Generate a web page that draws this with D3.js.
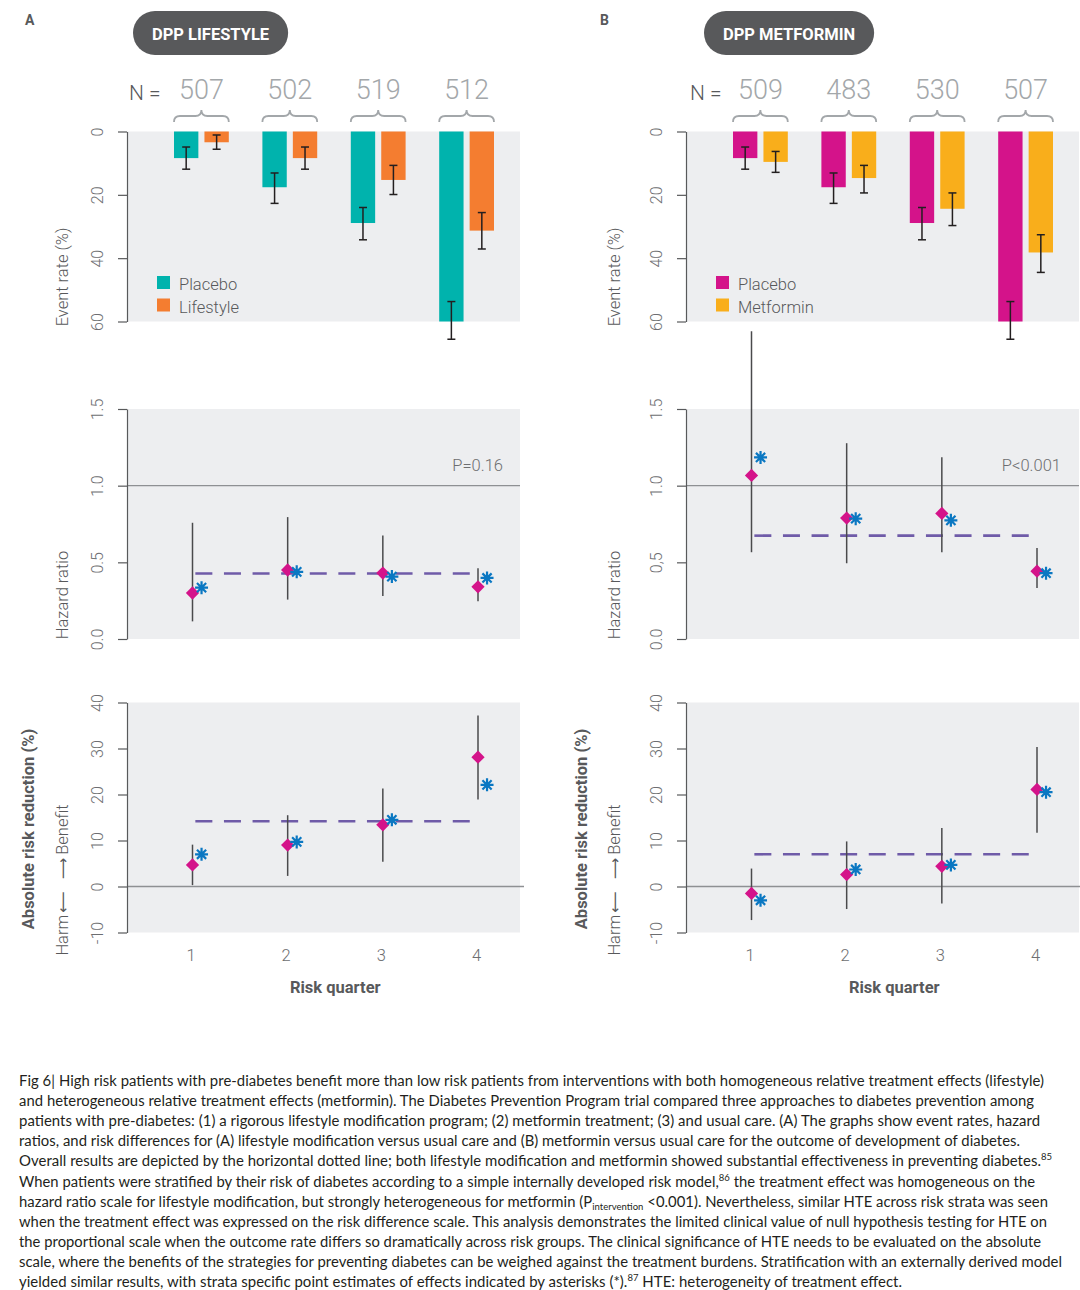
<!DOCTYPE html>
<html><head><meta charset="utf-8">
<script src="https://cdn.jsdelivr.net/npm/d3@7"></script>
<style>
body{margin:0;background:#fff;}
svg{display:block;}
</style></head><body>
<svg id="chart" width="1080" height="1290"></svg>
<script>
// ---------------- DATA ----------------
const quarters = [1, 2, 3, 4];
const groupKeys = ["placebo", "treat"];

// Panel A: lifestyle
const lifeN = [507, 502, 519, 512];
const lifePlaceboRate = [8.4, 17.6, 28.9, 60];
const lifePlaceboLo   = [4.9, 13.1, 24.0, 53.7];
const lifePlaceboHi   = [11.9, 22.7, 34.2, 65.6];
const lifeRate = [3.4, 8.4, 15.3, 31.3];
const lifeLo   = [1.1, 4.9, 10.7, 25.6];
const lifeHi   = [5.6, 11.9, 19.9, 37.1];
const lifeHR   = [0.30, 0.45, 0.43, 0.34];
const lifeHRLo = [0.115, 0.257, 0.281, 0.246];
const lifeHRHi = [0.758, 0.795, 0.675, 0.462];
const lifeHRExt = [0.335, 0.438, 0.407, 0.398];
const lifeHROverall = 0.427;
const lifeARR   = [4.7, 9.0, 13.4, 28.1];
const lifeARRLo = [0.3, 2.3, 5.4, 18.9];
const lifeARRHi = [9.1, 15.5, 21.3, 37.2];
const lifeARRExt = [7.0, 9.7, 14.5, 22.1];
const lifeARROverall = 14.2;

// Panel B: metformin
const metN = [509, 483, 530, 507];
const metPlaceboRate = [8.4, 17.6, 28.9, 60];
const metPlaceboLo   = [4.9, 13.1, 24.0, 53.7];
const metPlaceboHi   = [11.9, 22.7, 34.2, 65.6];
const metRate = [9.6, 14.7, 24.4, 38.2];
const metLo   = [6.3, 10.7, 19.4, 32.6];
const metHi   = [12.9, 19.4, 29.7, 44.5];
const metHR   = [1.067, 0.789, 0.819, 0.442];
const metHRLo = [0.566, 0.494, 0.566, 0.332];
const metHRHi = [2.007, 1.277, 1.186, 0.594];
const metHRExt = [1.184, 0.785, 0.774, 0.429];
const metHROverall = 0.674;
const metARR   = [-1.5, 2.6, 4.4, 21.1];
const metARRLo = [-7.3, -4.9, -3.7, 11.7];
const metARRHi = [3.9, 9.8, 12.7, 30.3];
const metARRExt = [-3.0, 3.7, 4.7, 20.5];
const metARROverall = 7.0;

const overallSpan = [1.03, 3.96];

// tick values / labels
const rateTicks = [0, 20, 40, 60];
const hrTicks = [0, 0.5, 1.0, 1.5];
const hrTickLabelsA = ["0.0", "0.5", "1.0", "1.5"];
const hrTickLabelsB = ["0.0", "0,5", "1.0", "1.5"];
const arrTicks = [-10, 0, 10, 20, 30, 40];
const arrTickLabels = ["-10", "0", "10", "20", "30", "40"];
const quarterLabels = ["1", "2", "3", "4"];

const captionLines = [
  "Fig 6| High risk patients with pre-diabetes benefit more than low risk patients from interventions with both homogeneous relative treatment effects (lifestyle)",
  "and heterogeneous relative treatment effects (metformin). The Diabetes Prevention Program trial compared three approaches to diabetes prevention among",
  "patients with pre-diabetes: (1) a rigorous lifestyle modification program; (2) metformin treatment; (3) and usual care. (A) The graphs show event rates, hazard",
  "ratios, and risk differences for (A) lifestyle modification versus usual care and (B) metformin versus usual care for the outcome of development of diabetes.",
  "Overall results are depicted by the horizontal dotted line; both lifestyle modification and metformin showed substantial effectiveness in preventing diabetes.^{85}",
  "When patients were stratified by their risk of diabetes according to a simple internally developed risk model,^{86} the treatment effect was homogeneous on the",
  "hazard ratio scale for lifestyle modification, but strongly heterogeneous for metformin (P_{intervention} <0.001). Nevertheless, similar HTE across risk strata was seen",
  "when the treatment effect was expressed on the risk difference scale. This analysis demonstrates the limited clinical value of null hypothesis testing for HTE on",
  "the proportional scale when the outcome rate differs so dramatically across risk groups. The clinical significance of HTE needs to be evaluated on the absolute",
  "scale, where the benefits of the strategies for preventing diabetes can be weighed against the treatment burdens. Stratification with an externally derived model",
  "yielded similar results, with strata specific point estimates of effects indicated by asterisks (*).^{87} HTE: heterogeneity of treatment effect."
];
const captionLineEnds = [1044, 1034, 1040, 1020, 1052, 1035, 1048, 1047, 1041, 1062, 902];

// ---------------- STYLE ----------------
const FONT = "Roboto, 'Open Sans', sans-serif";
const AXIS_COL = "#58595b";
const TICK_COL = "#6d6e71";
const BG = "#edeef0";
const DIAMOND = "#d4138a";
const STAR = "#0a77c2";
const DASH = "#6f5ba8";
const CI_COL = "#4a4a4c";

const svg = d3.select("#chart");

function styleAxis(sel) {
  sel.select(".domain").attr("stroke", AXIS_COL).attr("stroke-width", 1.2);
  sel.selectAll(".tick line").attr("stroke", AXIS_COL).attr("stroke-width", 1.2);
  sel.selectAll(".tick text")
    .attr("fill", TICK_COL).attr("font-size", 16).attr("font-family", FONT).attr("font-weight", 300)
    .attr("transform", "rotate(-90)").attr("x", 0).attr("y", -30).attr("dy", "0.36em")
    .attr("text-anchor", "middle");
}

function asteriskPath(r) {
  const p = [];
  for (let k = 0; k < 4; k++) {
    const a = k * Math.PI / 4;
    const cx = Math.cos(a) * r, cy = Math.sin(a) * r;
    p.push(`M${-cx},${-cy}L${cx},${cy}`);
  }
  return p.join("");
}

function rotTitle(g, x, y, text, opts) {
  return g.append("text")
    .attr("transform", `translate(${x},${y}) rotate(-90)`)
    .attr("text-anchor", "middle").attr("dy", "0.35em")
    .attr("font-family", FONT).attr("font-size", opts.size || 16)
    .attr("font-weight", opts.weight || 300)
    .attr("fill", opts.fill || AXIS_COL)
    .text(text);
}

function drawPanel(cfg) {
  const dx = cfg.dx;
  const axisX = 127 + dx;
  const plotRight = Math.min(520 + dx, 1080);
  const g = svg.append("g");

  // panel letter
  g.append("text").attr("x", cfg.letterX).attr("y", 25)
    .attr("font-family", FONT).attr("font-weight", 700).attr("font-size", 14)
    .attr("fill", AXIS_COL).text(cfg.letter);

  // pill title
  const pill = g.append("g");
  const pr = pill.append("rect").attr("fill", "#58595b");
  const pt = pill.append("text").attr("font-family", FONT).attr("font-weight", 700)
    .attr("font-size", 16.5).attr("fill", "#fff").attr("text-anchor", "middle")
    .attr("dy", "0.36em").text(cfg.title);
  const tw = pt.node().getComputedTextLength();
  const pw = tw + 38;
  pr.attr("x", cfg.pillX).attr("y", 11).attr("width", pw).attr("height", 44).attr("rx", 22);
  pt.attr("x", cfg.pillX + pw / 2).attr("y", 34);

  // ---- TOP: event rates ----
  const xBand = d3.scaleBand().domain(quarters).range([174 + dx, 494 + dx]).paddingInner(0.38).paddingOuter(0);
  const sub = d3.scaleBand().domain(groupKeys).range([0, xBand.bandwidth()]).paddingInner(0.2).paddingOuter(0);
  const yTop = d3.scaleLinear().domain([0, 60]).range([131.5, 321.5]);

  g.append("rect").attr("x", axisX).attr("y", yTop(0)).attr("width", plotRight - axisX)
    .attr("height", yTop(60) - yTop(0)).attr("fill", BG);

  const rows = quarters.map((q, i) => ({
    q, n: cfg.n[i],
    vals: [
      { key: "placebo", v: cfg.pRate[i], lo: cfg.pLo[i], hi: cfg.pHi[i] },
      { key: "treat", v: cfg.tRate[i], lo: cfg.tLo[i], hi: cfg.tHi[i] }
    ]
  }));
  const colors = d3.scaleOrdinal().domain(groupKeys).range(cfg.colors);

  const grp = g.selectAll(".grp").data(rows).join("g").attr("transform", d => `translate(${xBand(d.q)},0)`);
  grp.selectAll("rect").data(d => d.vals).join("rect")
    .attr("x", d => sub(d.key)).attr("width", sub.bandwidth())
    .attr("y", yTop(0)).attr("height", d => yTop(d.v) - yTop(0))
    .attr("fill", d => colors(d.key));
  const eb = grp.selectAll(".eb").data(d => d.vals).join("g")
    .attr("transform", d => `translate(${sub(d.key) + sub.bandwidth() / 2},0)`);
  eb.append("line").attr("y1", d => yTop(d.lo)).attr("y2", d => yTop(d.hi))
    .attr("stroke", "#231f20").attr("stroke-width", 1.5);
  eb.append("line").attr("x1", -4).attr("x2", 4).attr("y1", d => yTop(d.lo)).attr("y2", d => yTop(d.lo))
    .attr("stroke", "#231f20").attr("stroke-width", 1.5);
  eb.append("line").attr("x1", -4).attr("x2", 4).attr("y1", d => yTop(d.hi)).attr("y2", d => yTop(d.hi))
    .attr("stroke", "#231f20").attr("stroke-width", 1.5);

  // N labels and braces
  g.append("text").attr("x", 129 + dx + cfg.nShift).attr("y", 100)
    .attr("font-family", FONT).attr("font-weight", 300).attr("font-size", 21)
    .attr("fill", AXIS_COL).text("N =");
  g.selectAll(".nlab").data(rows).join("text")
    .attr("x", d => xBand(d.q) + xBand.bandwidth() / 2).attr("y", 99)
    .attr("text-anchor", "middle").attr("font-family", FONT).attr("font-weight", 300)
    .attr("font-size", 27).attr("fill", "#a3a7aa").text(d => d.n);
  g.selectAll(".brace").data(rows).join("path")
    .attr("d", d => {
      const x0 = xBand(d.q), x1 = x0 + xBand.bandwidth(), xc = (x0 + x1) / 2;
      const yt = 110, ym = 116, yb = 122, r = 6;
      return `M${x0},${yb} Q${x0},${ym} ${x0 + r},${ym} L${xc - r},${ym} Q${xc},${ym} ${xc},${yt} ` +
             `Q${xc},${ym} ${xc + r},${ym} L${x1 - r},${ym} Q${x1},${ym} ${x1},${yb}`;
    })
    .attr("fill", "none").attr("stroke", "#a3a7aa").attr("stroke-width", 1.8);

  // legend
  const leg = g.append("g");
  cfg.legend.forEach((lab, i) => {
    leg.append("rect").attr("x", 157 + dx).attr("y", 276 + i * 22.5).attr("width", 13).attr("height", 13)
      .attr("fill", colors(groupKeys[i]));
    leg.append("text").attr("x", 179 + dx).attr("y", 290 + i * 22.5)
      .attr("font-family", FONT).attr("font-weight", 300).attr("font-size", 16.5)
      .attr("fill", AXIS_COL).text(lab);
  });

  const axTop = g.append("g").attr("transform", `translate(${axisX},0)`)
    .call(d3.axisLeft(yTop).tickValues(rateTicks).tickSize(9).tickSizeOuter(0).tickFormat(d3.format("d")));
  styleAxis(axTop);
  rotTitle(g, cfg.titleX, 277, "Event rate (%)", { size: 16.5 });

  // ---- shared x for lower panels ----
  const xM = d3.scaleLinear().domain([1, 4]).range([192.5 + dx, 478 + dx]);

  function pointPanel(yScale, est, lo, hi, ext, overall, refVal, refExtra) {
    const [yb, yt] = yScale.range();
    g.append("rect").attr("x", axisX).attr("y", yt).attr("width", plotRight - axisX)
      .attr("height", yb - yt).attr("fill", BG);
    g.append("line").attr("x1", axisX).attr("x2", Math.min(plotRight + refExtra, 1080))
      .attr("y1", yScale(refVal)).attr("y2", yScale(refVal))
      .attr("stroke", "#8e9093").attr("stroke-width", 1.3);
    g.append("line").attr("x1", xM(overallSpan[0])).attr("x2", xM(overallSpan[1]))
      .attr("y1", yScale(overall)).attr("y2", yScale(overall))
      .attr("stroke", DASH).attr("stroke-width", 2.6).attr("stroke-dasharray", "17,11.6");
    const pts = quarters.map((q, i) => ({ q, est: est[i], lo: lo[i], hi: hi[i], ext: ext[i] }));
    g.selectAll(null).data(pts).join("line")
      .attr("x1", d => xM(d.q)).attr("x2", d => xM(d.q))
      .attr("y1", d => yScale(d.lo)).attr("y2", d => yScale(d.hi))
      .attr("stroke", CI_COL).attr("stroke-width", 1.5);
    g.selectAll(null).data(pts).join("path")
      .attr("d", d3.symbol(d3.symbolSquare, 88))
      .attr("transform", d => `translate(${xM(d.q)},${yScale(d.est)}) rotate(45)`)
      .attr("fill", DIAMOND);
    g.selectAll(null).data(pts).join("path")
      .attr("d", asteriskPath(6.5))
      .attr("transform", d => `translate(${xM(d.q + 0.095)},${yScale(d.ext)})`)
      .attr("fill", "none").attr("stroke", STAR).attr("stroke-width", 2.2);
  }

  // ---- HR ----
  const yHR = d3.scaleLinear().domain([0, 1.5]).range([639, 409]);
  pointPanel(yHR, cfg.hr, cfg.hrLo, cfg.hrHi, cfg.hrExt, cfg.hrOverall, 1.0, 0);
  const axHR = g.append("g").attr("transform", `translate(${axisX},0)`)
    .call(d3.axisLeft(yHR).tickValues(hrTicks).tickSize(9).tickSizeOuter(0)
      .tickFormat((d, i) => cfg.hrLabels[i]));
  styleAxis(axHR);
  rotTitle(g, cfg.titleX, 595, "Hazard ratio", { size: 16.5 });
  g.append("text").attr("x", cfg.pRight).attr("y", 471).attr("text-anchor", "end")
    .attr("font-family", FONT).attr("font-weight", 300).attr("font-size", 16.5)
    .attr("fill", TICK_COL).text(cfg.pText);

  // ---- ARR ----
  const yARR = d3.scaleLinear().domain([-10, 40]).range([932.5, 702.5]);
  pointPanel(yARR, cfg.arr, cfg.arrLo, cfg.arrHi, cfg.arrExt, cfg.arrOverall, 0, 4);
  const axARR = g.append("g").attr("transform", `translate(${axisX},0)`)
    .call(d3.axisLeft(yARR).tickValues(arrTicks).tickSize(9).tickSizeOuter(0)
      .tickFormat((d, i) => arrTickLabels[i]));
  styleAxis(axARR);
  rotTitle(g, cfg.boldTitleX, 829, "Absolute risk reduction (%)", { weight: 700, size: 16.5 });
  const hb = rotTitle(g, cfg.titleX, 880, "", { size: 16.5 });
  hb.append("tspan").text("Harm");
  hb.append("tspan").attr("font-family", "'DejaVu Sans', sans-serif").attr("font-weight", 400)
    .attr("font-size", 15).attr("dx", 2).text("\u27F5");
  hb.append("tspan").attr("font-family", "'DejaVu Sans', sans-serif").attr("font-weight", 400)
    .attr("font-size", 15).attr("dx", 12).text("\u27F6");
  hb.append("tspan").attr("dx", 3).text("Benefit");

  const axX = g.append("g").attr("transform", `translate(-2,946)`)
    .call(d3.axisBottom(xM).tickValues(quarters).tickSize(0).tickPadding(3)
      .tickFormat((d, i) => quarterLabels[i]));
  axX.select(".domain").remove();
  axX.selectAll("text").attr("font-family", FONT).attr("font-weight", 300)
    .attr("font-size", 16.5).attr("fill", TICK_COL);
  g.append("text").attr("x", xM(2.5)).attr("y", 993).attr("text-anchor", "middle")
    .attr("font-family", FONT).attr("font-weight", 700).attr("font-size", 16.5)
    .attr("fill", AXIS_COL).text("Risk quarter");
}

drawPanel({
  dx: 0, letter: "A", letterX: 25, title: "DPP LIFESTYLE", pillX: 133, nShift: 0,
  n: lifeN, pRate: lifePlaceboRate, pLo: lifePlaceboLo, pHi: lifePlaceboHi,
  tRate: lifeRate, tLo: lifeLo, tHi: lifeHi, colors: ["#00b3ad", "#f47d30"],
  legend: ["Placebo", "Lifestyle"], titleX: 62, boldTitleX: 28,
  hr: lifeHR, hrLo: lifeHRLo, hrHi: lifeHRHi, hrExt: lifeHRExt, hrOverall: lifeHROverall,
  hrLabels: hrTickLabelsA, pText: "P=0.16", pRight: 503,
  arr: lifeARR, arrLo: lifeARRLo, arrHi: lifeARRHi, arrExt: lifeARRExt, arrOverall: lifeARROverall
});
drawPanel({
  dx: 559, letter: "B", letterX: 600, title: "DPP METFORMIN", pillX: 704, nShift: 2,
  n: metN, pRate: metPlaceboRate, pLo: metPlaceboLo, pHi: metPlaceboHi,
  tRate: metRate, tLo: metLo, tHi: metHi, colors: ["#d4138a", "#f9ae1b"],
  legend: ["Placebo", "Metformin"], titleX: 614, boldTitleX: 581,
  hr: metHR, hrLo: metHRLo, hrHi: metHRHi, hrExt: metHRExt, hrOverall: metHROverall,
  hrLabels: hrTickLabelsB, pText: "P<0.001", pRight: 1061,
  arr: metARR, arrLo: metARRLo, arrHi: metARRHi, arrExt: metARRExt, arrOverall: metARROverall
});

// ---------------- CAPTION ----------------
const cap = svg.append("g");
captionLines.forEach((line, i) => {
  const target = captionLineEnds[i] - 19;
  const t = cap.append("text").attr("x", 19).attr("y", 1086 + i * 20.1)
    .attr("font-family", "Lato, 'Noto Sans', sans-serif").attr("font-size", 15.5)
    .attr("fill", "#231f20");
  const re = /(\^\{[^}]*\}|_\{[^}]*\})/g;
  line.split(re).forEach(p => {
    if (!p) return;
    if (p.startsWith("^{")) {
      t.append("tspan").attr("baseline-shift", "6").attr("font-size", 9.5).text(p.slice(2, -1));
    } else if (p.startsWith("_{")) {
      t.append("tspan").attr("baseline-shift", "-2.5").attr("font-size", 9.5).text(p.slice(2, -1));
    } else {
      t.append("tspan").text(p);
    }
  });
  const natural = t.node().getComputedTextLength();
  if (natural > target) {
    t.attr("font-size", 15.5 * target / natural * 0.995);
  }
  t.attr("textLength", target).attr("lengthAdjust", "spacing");
});
</script>
</body></html>
